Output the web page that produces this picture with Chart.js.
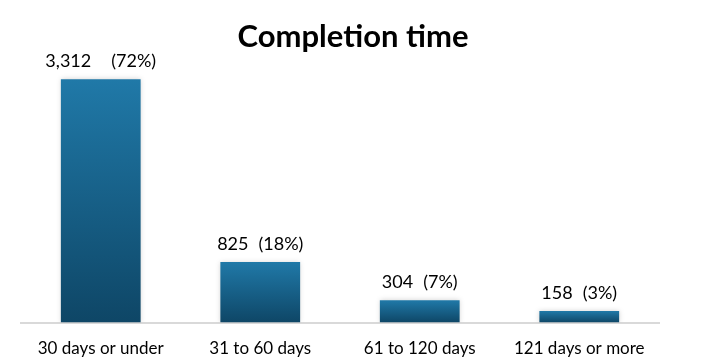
<!DOCTYPE html>
<html>
<head>
<meta charset="utf-8">
<script src="https://cdn.jsdelivr.net/npm/chart.js@4"></script>
<style>
  html, body { margin: 0; padding: 0; background: #fff; }
  #wrap { width: 706px; height: 363px; }
</style>
</head>
<body>
<div id="wrap"><canvas id="chart"></canvas></div>
<script>
const categories = ['30 days or under', '31 to 60 days', '61 to 120 days', '121 days or more'];
const counts = [3312, 825, 304, 158];
const percents = [72, 18, 7, 3];
const valueLabels = ['3,312', '825', '304', '158'];
const chartTitle = 'Completion time';

// soft shadow round the bars
const barShadow = {
    id: 'barShadow',
    beforeDatasetsDraw(chart) {
        const c = chart.ctx;
        c.save();
        c.shadowColor = 'rgba(0,0,0,0.18)';
        c.shadowBlur = 5;
    },
    afterDatasetsDraw(chart) {
        chart.ctx.restore();
    }
};

// value + percent labels above each bar, and the title centred on the page
const barLabels = {
    id: 'barLabels',
    afterDatasetsDraw(chart) {
        const ctx = chart.ctx;
        const meta = chart.getDatasetMeta(0);
        ctx.save();
        ctx.font = '18px Lato';
        ctx.fillStyle = '#000';
        ctx.textBaseline = 'bottom';
        meta.data.forEach((bar, i) => {
            const gap = i === 0 ? 20 : 10;
            const v = valueLabels[i];
            const p = '(' + percents[i] + '%)';
            const wv = ctx.measureText(v).width;
            const wp = ctx.measureText(p).width;
            const start = bar.x - (wv + gap + wp) / 2;
            ctx.textAlign = 'left';
            ctx.fillText(v, start, bar.y - 9);
            ctx.fillText(p, start + wv + gap, bar.y - 9);
        });
        ctx.font = 'bold 31px Lato';
        ctx.textAlign = 'center';
        ctx.textBaseline = 'middle';
        ctx.fillText(chartTitle, chart.width / 2, 37);
        ctx.restore();
    }
};

const ctx = document.getElementById('chart').getContext('2d');
new Chart(ctx, {
    type: 'bar',
    data: {
        labels: categories,
        datasets: [{
            data: counts,
            backgroundColor: function (context) {
                const chart = context.chart;
                const area = chart.chartArea;
                if (!area || context.raw === undefined) return '#1a6a96';
                const top = chart.scales.y.getPixelForValue(context.raw);
                const g = chart.ctx.createLinearGradient(0, top, 0, area.bottom);
                g.addColorStop(0, '#2079a8');
                g.addColorStop(1, '#0e4666');
                return g;
            },
            barPercentage: 0.5,
            categoryPercentage: 1.0
        }]
    },
    options: {
        responsive: true,
        maintainAspectRatio: false,
        animation: false,
        layout: { padding: { left: 21, right: 47, bottom: -12, top: 58 } },
        plugins: {
            legend: { display: false },
            tooltip: { enabled: false },
            title: { display: false }
        },
        scales: {
            x: {
                grid: { display: false, drawTicks: false },
                border: { display: true, color: '#d9d9d9', width: 2 },
                ticks: { color: '#000', font: { family: 'Lato', size: 17 }, padding: 16 }
            },
            y: {
                display: false,
                min: 0,
                max: 3600
            }
        }
    },
    plugins: [barShadow, barLabels]
});
</script>
</body>
</html>
